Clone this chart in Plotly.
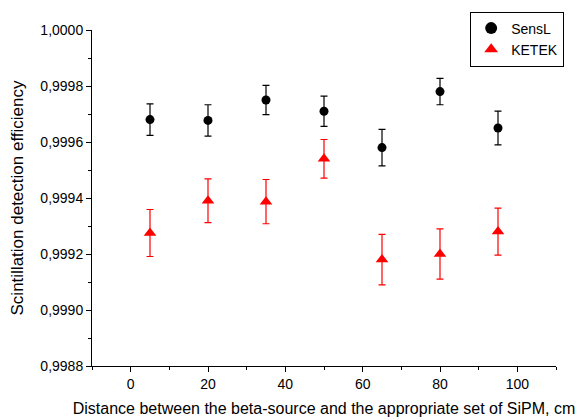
import plotly.graph_objects as go

distance = [5, 20, 35, 50, 65, 80, 95]
sensl = [0.99968, 0.999677, 0.99975, 0.99971, 0.99958, 0.99978, 0.99965]
sensl_err = [0.000056, 0.000056, 0.000052, 0.000054, 0.000065, 0.000047, 0.000060]
ketek = [0.999275, 0.99939, 0.999387, 0.99954, 0.99918, 0.99920, 0.99928]
ketek_err = [0.000084, 0.000078, 0.000079, 0.000069, 0.000090, 0.000090, 0.000084]

font = "Arial, 'Liberation Sans', sans-serif"

fig = go.Figure()
fig.add_trace(go.Scatter(
    x=distance, y=sensl, mode="markers", name="SensL",
    marker=dict(symbol="circle", size=9, color="black"),
    error_y=dict(type="data", array=sensl_err, visible=True, color="black",
                 thickness=1.2, width=3.5),
))
fig.add_trace(go.Scatter(
    x=distance, y=ketek, mode="markers", name="KETEK",
    marker=dict(symbol="triangle-up", size=11, color="red"),
    error_y=dict(type="data", array=ketek_err, visible=True, color="red",
                 thickness=1.2, width=3.5),
))

axis_common = dict(
    showline=True, linecolor="black", linewidth=1, mirror=False,
    showgrid=False, zeroline=False, ticks="outside", ticklen=5,
    tickcolor="black", tickwidth=1, automargin=False,
    tickfont=dict(family=font, size=14, color="black"),
)

fig.update_layout(
    width=581, height=420,
    margin=dict(l=92, r=25, t=20, b=54),
    paper_bgcolor="white", plot_bgcolor="white",
    separators=",.",
    font=dict(family=font, size=14, color="black"),
    xaxis=dict(
        range=[-10, 110], tickvals=[0, 20, 40, 60, 80, 100],
        minor=dict(dtick=10, tick0=0, ticks="outside", ticklen=3, tickcolor="black"),
        title=dict(text="Distance between the beta-source and the appropriate set of SiPM, cm",
                   font=dict(family=font, size=16), standoff=12),
        **axis_common,
    ),
    yaxis=dict(
        range=[0.9988, 1.0000], dtick=0.0002, tick0=0.9988, tickformat=".4f",
        minor=dict(dtick=0.0001, tick0=0.9988, ticks="outside", ticklen=3, tickcolor="black"),
        title=dict(text="Scintillation detection efficiency",
                   font=dict(family=font, size=17), standoff=12),
        **axis_common,
    ),
    legend=dict(
        x=0.815, y=1.055, xanchor="left", yanchor="top",
        bordercolor="black", borderwidth=1, bgcolor="white",
        font=dict(family=font, size=14),
        itemsizing="constant", tracegroupgap=0, entrywidth=70,
    ),
    showlegend=True,
)

fig.write_html("out.html")
